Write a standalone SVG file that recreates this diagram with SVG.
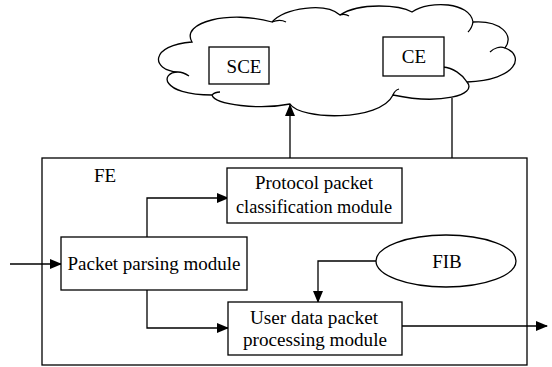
<svg xmlns="http://www.w3.org/2000/svg" width="552" height="367" viewBox="0 0 552 367">
<defs>
<marker id="arr" markerWidth="12" markerHeight="10" refX="11" refY="5" orient="auto" markerUnits="userSpaceOnUse">
<path d="M0,0 L12,5 L0,10 Z" fill="#000"/>
</marker>
<style>
.box{fill:#fff;stroke:#000;stroke-width:1.3}
.ln{fill:none;stroke:#000;stroke-width:1.3}
text{font-family:'Liberation Serif','DejaVu Serif',serif;font-size:19px;fill:#000;text-anchor:middle}
</style>
</defs>
<rect width="552" height="367" fill="#fff"/>
<g id="cloud">
<path class="ln" d="M192,42 C180,22 230,10 272,22 C285,8 325,2 340,15 C360,2 400,5 412,12 C430,0 470,2 473,22 C500,20 515,35 505,48 C525,55 518,80 467,82 C478,95 440,105 393,95 C380,122 300,120 290,104 C260,110 215,105 212,95 C160,95 160,72 178,72 C150,70 150,45 192,42 Z"/>
<path class="ln" d="M272,22 C277,20 282,20 286,22 M340,15 C343,14 346,14 349,16 M473,22 C472,28 470,30 468,32 M505,48 C500,46 494,48 490,52 M467,82 C462,74 453,68 443,67 M178,72 C182,72 186,74 189,76 M212,95 C214,93 217,92 220,92 M393,95 C394,92 396,90 399,89"/>
</g>
<g id="FE">
<rect class="box" x="42" y="158" width="485" height="207"/>
<text x="105" y="182" font-family="Liberation Serif, serif">FE</text>
</g>
<g id="SCE">
<rect class="box" x="209" y="47" width="60" height="37"/>
<text x="244" y="73" font-family="Liberation Serif, serif">SCE</text>
</g>
<g id="CE">
<rect class="box" x="383" y="37" width="61" height="39"/>
<text x="414" y="63" font-family="Liberation Serif, serif">CE</text>
</g>
<g id="connectors">
<line class="ln" x1="290" y1="158" x2="290" y2="105" marker-end="url(#arr)"/>
<line class="ln" x1="452" y1="158" x2="452" y2="98"/>
<line class="ln" x1="10" y1="264" x2="61" y2="264" marker-end="url(#arr)"/>
<polyline class="ln" points="147,237 147,198 228,198" marker-end="url(#arr)"/>
<polyline class="ln" points="147,290 147,328 228,328" marker-end="url(#arr)"/>
<polyline class="ln" points="376,261 318,261 318,302" marker-end="url(#arr)"/>
<line class="ln" x1="402" y1="326" x2="547" y2="326" marker-end="url(#arr)"/>
</g>
<g id="protocol">
<rect class="box" x="227" y="168" width="175" height="55"/>
<text x="314" y="189" textLength="118" lengthAdjust="spacingAndGlyphs" font-family="Liberation Serif, serif">Protocol packet</text>
<text x="314" y="213" textLength="156" lengthAdjust="spacingAndGlyphs" font-family="Liberation Serif, serif">classification module</text>
</g>
<g id="parsing">
<rect class="box" x="61" y="237" width="186" height="53"/>
<text x="154" y="270" textLength="173" lengthAdjust="spacingAndGlyphs" font-family="Liberation Serif, serif">Packet parsing module</text>
</g>
<g id="userdata">
<rect class="box" x="228" y="302" width="174" height="53"/>
<text x="314" y="324" textLength="128" lengthAdjust="spacingAndGlyphs" font-family="Liberation Serif, serif">User data packet</text>
<text x="315" y="346" textLength="144" lengthAdjust="spacingAndGlyphs" font-family="Liberation Serif, serif">processing module</text>
</g>
<g id="FIB">
<ellipse class="box" cx="446" cy="261" rx="70" ry="26"/>
<text x="447" y="268" font-family="Liberation Serif, serif">FIB</text>
</g>
</svg>
